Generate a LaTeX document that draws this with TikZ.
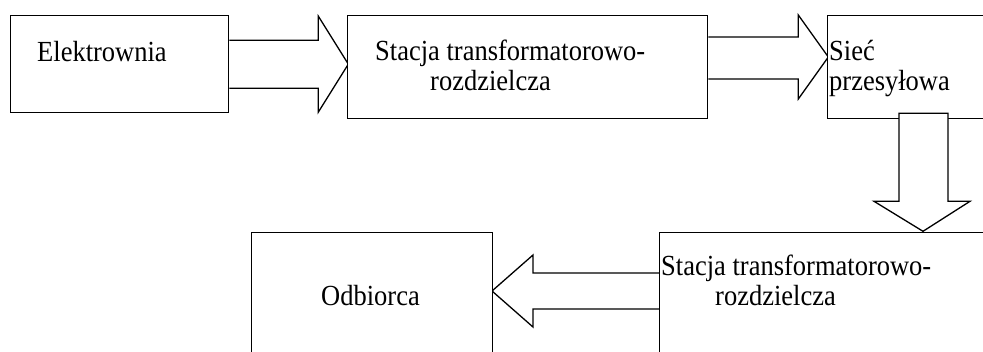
\documentclass[tikz,border=0pt]{standalone}
\usepackage{fontspec}
\setmainfont{Liberation Serif}
\usetikzlibrary{calc,backgrounds}
\newcommand{\tallbox}[1]{\scalebox{1}[1.1]{#1}}
\begin{document}
\begin{tikzpicture}[x=1pt,y=-1pt,
  box/.style={draw,line width=1.3pt,fill=white,anchor=north west,inner sep=0pt},
  blockarrow/.style={draw,line width=1.3pt,fill=white,line join=miter},
  lbl/.style={anchor=base west,inner sep=0pt,font=\fontsize{26.5}{30}\selectfont},
]
\clip (0,0) rectangle (983,351);
% boxes
\node[box,minimum width=218pt,minimum height=97pt]  (b1) at (10,15)  {};
\node[box,minimum width=360pt,minimum height=103pt] (b2) at (347,15) {};
\node[box,minimum width=200pt,minimum height=103pt] (b3) at (827,15) {};
\node[box,minimum width=360pt,minimum height=140pt] (b4) at (659,232) {};
\node[box,minimum width=241pt,minimum height=140pt] (b5) at (251,232) {};
% labels
\node[lbl] (t1) at (37,61) {\tallbox{Elektrownia}};
\node[lbl] (t2a) at (375,60) {\tallbox{Stacja transformatorowo-}};
\node[lbl] (t2b) at (430,90) {\tallbox{rozdzielcza}};
\node[lbl] (t3a) at (829,60) {\tallbox{Sieć}};
\node[lbl] (t3b) at (829,90) {\tallbox{przesyłowa}};
\node[lbl] (t4a) at (661,275) {\tallbox{Stacja transformatorowo-}};
\node[lbl] (t4b) at (715,305) {\tallbox{rozdzielcza}};
\node[lbl] (t5) at (321,305) {\tallbox{Odbiorca}};
% horizontal block arrows (below box outlines)
\begin{scope}[on background layer]
\fill[white] (0,0) rectangle (983,351);
\draw[blockarrow] (b1.east) ++(0,-24) -- ++(89,0) -- ++(0,-24) -- ++(30,48)
  -- ++(-30,48) -- ++(0,-24) -- ++(-89,0);
\draw[blockarrow] (b2.north east) ++(0,22) -- ++(90,0) -- ++(0,-22) -- ++(30,42)
  -- ++(-30,42) -- ++(0,-20) -- ++(-90,0);
\draw[blockarrow] (b4.north west) ++(0,41) -- ++(-126,0) -- ++(0,-18) -- ++(-41,36)
  -- ++(41,36) -- ++(0,-18) -- ++(126,0);
\end{scope}
% down block arrow (over the bottom edge of b3)
\draw[blockarrow] (b3.south west) ++(72,-6) -- ++(0,88) -- ++(-25,0) -- ++(49,30)
  -- ++(47,-30) -- ++(-22,0) -- ++(0,-88) -- cycle;
\end{tikzpicture}
\end{document}
